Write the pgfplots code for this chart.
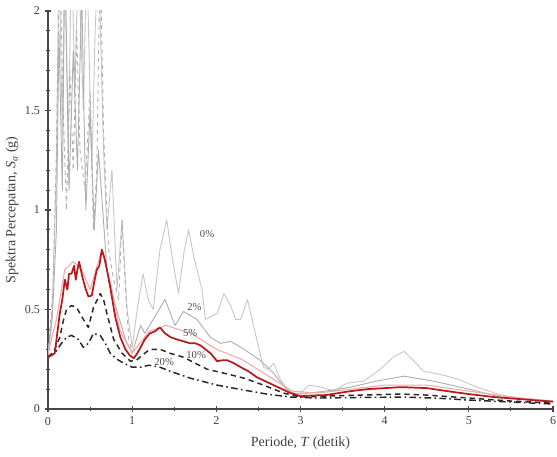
\documentclass[border=0pt]{standalone}
\usepackage{pgfplots}
\pgfplotsset{compat=1.18}
\usepackage{fontspec}
\setmainfont{Liberation Serif}
\definecolor{lgray}{RGB}{200,200,200}
\definecolor{mgray}{RGB}{175,175,175}
\definecolor{dred}{RGB}{185,25,30}
\definecolor{pinkred}{RGB}{240,170,170}
\definecolor{axgray}{RGB}{70,70,70}

\begin{document}
\begin{tikzpicture}
\begin{axis}[
  scale only axis,
  width=378.75pt, height=298.5pt,
  xmin=0, xmax=6, ymin=0, ymax=2,
  axis x line=bottom, axis y line=left,
  axis line style={draw=axgray, line width=1.2pt, -},
  xtick={0,1,2,3,4,5,6},
  ytick={0,0.5,1,1.5,2},
  yticklabels={0,0.5,1,1.5,2},
  minor y tick num=4,
  minor x tick num=1,
  tick align=center,
  major tick length=5pt, minor tick length=3pt,
  tick style={draw=axgray, line width=0.8pt},
  /pgf/number format/assume math mode=true,
  ticklabel style={font=\fontsize{9}{10}\selectfont, text=black!75},
  xlabel={Periode, \textit{T} (detik)},
  ylabel={Spektra Percepatan, \textit{S}\textsubscript{\textit{a}} (g)},
  label style={font=\fontsize{10.5}{12}\selectfont, text=black!75},
  xlabel style={yshift=-2pt},
  ylabel style={yshift=-2pt},
  every axis plot/.append style={line join=round},
]
% 0% damping
\addplot[lgray, line width=0.7pt] coordinates {
(0,0.27) (0.05,0.5) (0.1,1.2) (0.13,2.3) (0.17,1.4) (0.2,2.3) (0.24,1.3) (0.28,2.3)
(0.32,1.6) (0.36,2.3) (0.42,1.5) (0.46,2.3) (0.52,1.2) (0.56,1.9) (0.6,2.3) (0.66,1.3)
(0.7,0.9) (0.76,1.2) (0.82,0.6) (0.88,0.95) (0.94,0.5) (1.0,0.31) (1.06,0.5) (1.13,0.68)
(1.19,0.55) (1.25,0.5) (1.33,0.8) (1.41,0.95) (1.48,0.75) (1.55,0.58) (1.62,0.8) (1.67,0.9)
(1.74,0.75) (1.83,0.6) (1.87,0.45) (2.01,0.48) (2.09,0.58) (2.17,0.52) (2.23,0.45) (2.29,0.45)
(2.37,0.55) (2.48,0.35) (2.56,0.21) (2.62,0.2) (2.68,0.23) (2.76,0.15) (2.88,0.08) (3.0,0.08)
(3.1,0.12) (3.25,0.11) (3.4,0.09) (3.55,0.13) (3.75,0.14) (3.95,0.2) (4.1,0.26) (4.23,0.29)
(4.35,0.24) (4.46,0.19) (4.7,0.17) (4.87,0.15) (5.1,0.11) (5.38,0.07) (5.7,0.05) (6,0.04)
};
% extra gray dashed record
\addplot[mgray, line width=0.7pt, dashed] coordinates {
(0,0.27) (0.06,0.6) (0.1,1.3) (0.14,2.3) (0.18,1.5) (0.22,1.0) (0.26,1.7) (0.3,1.2)
(0.34,1.9) (0.38,1.3) (0.44,1.1) (0.5,1.6) (0.54,0.9) (0.58,1.2) (0.62,2.3) (0.66,1.4)
(0.72,0.8) (0.78,0.65) (0.84,0.55) (0.88,0.95) (0.92,0.6) (0.96,0.35) (1.0,0.29)
};
% 2% damping
\addplot[mgray, line width=0.7pt] coordinates {
(0,0.27) (0.05,0.45) (0.1,0.9) (0.13,1.9) (0.17,1.1) (0.2,2.3) (0.25,1.1) (0.3,1.8)
(0.35,1.2) (0.4,2.1) (0.45,1.0) (0.5,1.5) (0.55,0.9) (0.6,1.3) (0.65,1.0) (0.7,0.7)
(0.78,0.55) (0.85,0.45) (0.92,0.35) (1.0,0.28) (1.05,0.35) (1.1,0.42) (1.15,0.38) (1.25,0.45)
(1.39,0.55) (1.51,0.42) (1.61,0.49) (1.77,0.45) (1.93,0.36) (2.05,0.33) (2.17,0.34) (2.33,0.30)
(2.52,0.245) (2.68,0.18) (2.84,0.095) (2.95,0.075) (3.1,0.08) (3.3,0.09) (3.6,0.11) (3.9,0.14)
(4.23,0.165) (4.58,0.14) (5.0,0.1) (5.38,0.06) (6,0.035)
};
% light red companion
\addplot[pinkred, line width=0.8pt] coordinates {
(0,0.28) (0.1,0.45) (0.2,0.7) (0.3,0.74) (0.4,0.7) (0.5,0.6) (0.64,0.8) (0.75,0.62)
(0.85,0.4) (1.0,0.28) (1.2,0.39) (1.4,0.42) (1.7,0.38) (2.0,0.3) (2.3,0.25) (2.6,0.17)
(2.9,0.09) (3.2,0.08) (3.6,0.1) (4.0,0.12) (4.5,0.12) (5.0,0.09) (5.5,0.06) (6,0.04)
};
% 20% damping
\addplot[black!85, line width=1.1pt, dash pattern=on 5pt off 2.5pt on 1.2pt off 2.5pt] coordinates {
(0,0.26) (0.08,0.28) (0.16,0.33) (0.22,0.36) (0.28,0.37) (0.36,0.35) (0.42,0.31) (0.48,0.33)
(0.54,0.38) (0.62,0.37) (0.68,0.33) (0.74,0.28) (0.82,0.25) (0.9,0.23) (1.0,0.21) (1.1,0.21)
(1.2,0.22) (1.33,0.21) (1.45,0.19) (1.69,0.155) (2.01,0.12) (2.33,0.095) (2.6,0.075) (2.88,0.06)
(3.2,0.055) (3.7,0.058) (4.2,0.06) (4.6,0.055) (5.0,0.045) (5.5,0.035) (6,0.025)
};
% 10% damping
\addplot[black!85, line width=1.1pt, dash pattern=on 4pt off 3pt] coordinates {
(0,0.26) (0.07,0.29) (0.14,0.36) (0.18,0.44) (0.22,0.5) (0.28,0.52) (0.34,0.51) (0.42,0.45)
(0.48,0.41) (0.54,0.51) (0.62,0.58) (0.66,0.55) (0.70,0.48) (0.78,0.35) (0.88,0.28) (0.98,0.24)
(1.05,0.245) (1.12,0.27) (1.21,0.30) (1.33,0.30) (1.45,0.28) (1.61,0.26) (1.75,0.23) (1.89,0.2)
(2.09,0.18) (2.33,0.155) (2.56,0.12) (2.8,0.08) (3.0,0.06) (3.3,0.065) (3.7,0.07) (4.2,0.075)
(4.5,0.07) (5.0,0.055) (5.5,0.04) (6,0.03)
};
% 5% damping
\addplot[dred, line width=1.3pt] coordinates {
(0,0.26) (0.04,0.27) (0.08,0.28) (0.11,0.38) (0.14,0.48) (0.17,0.55) (0.2,0.65) (0.23,0.6)
(0.25,0.68) (0.28,0.68) (0.31,0.72) (0.33,0.65) (0.35,0.7) (0.37,0.74) (0.41,0.66) (0.45,0.6)
(0.48,0.565) (0.52,0.57) (0.55,0.64) (0.58,0.70) (0.61,0.72) (0.64,0.80) (0.67,0.76) (0.7,0.70)
(0.74,0.61) (0.8,0.46) (0.86,0.36) (0.92,0.30) (0.97,0.27) (1.02,0.255) (1.06,0.28) (1.1,0.31)
(1.15,0.35) (1.21,0.38) (1.27,0.39) (1.33,0.41) (1.39,0.38) (1.46,0.36) (1.53,0.35) (1.61,0.34)
(1.69,0.33) (1.75,0.33) (1.81,0.32) (1.87,0.30) (1.93,0.28) (2.01,0.24) (2.07,0.245) (2.13,0.245)
(2.21,0.23) (2.29,0.21) (2.38,0.19) (2.48,0.16) (2.58,0.14) (2.68,0.12) (2.78,0.10) (2.88,0.08)
(3.0,0.065) (3.15,0.068) (3.3,0.07) (3.45,0.08) (3.6,0.09) (3.8,0.1) (4.0,0.105) (4.2,0.11)
(4.5,0.105) (4.79,0.087) (5.0,0.075) (5.3,0.06) (5.6,0.05) (6,0.037)
};
\begin{scope}[every node/.style={font=\fontsize{8}{9}\selectfont, text=black!70, inner sep=1pt}]
\node at (axis cs:1.89,0.88) {0\%};
\node at (axis cs:1.74,0.51) {2\%};
\node at (axis cs:1.69,0.38) {5\%};
\node at (axis cs:1.76,0.27) {10\%};
\node at (axis cs:1.38,0.235) {20\%};
\end{scope}
\end{axis}
\pgfresetboundingbox
\path[use as bounding box] ([shift={(-36pt,-35.25pt)}]current axis.south west) rectangle ([shift={(3pt,8.25pt)}]current axis.north east);
\end{tikzpicture}
\end{document}
